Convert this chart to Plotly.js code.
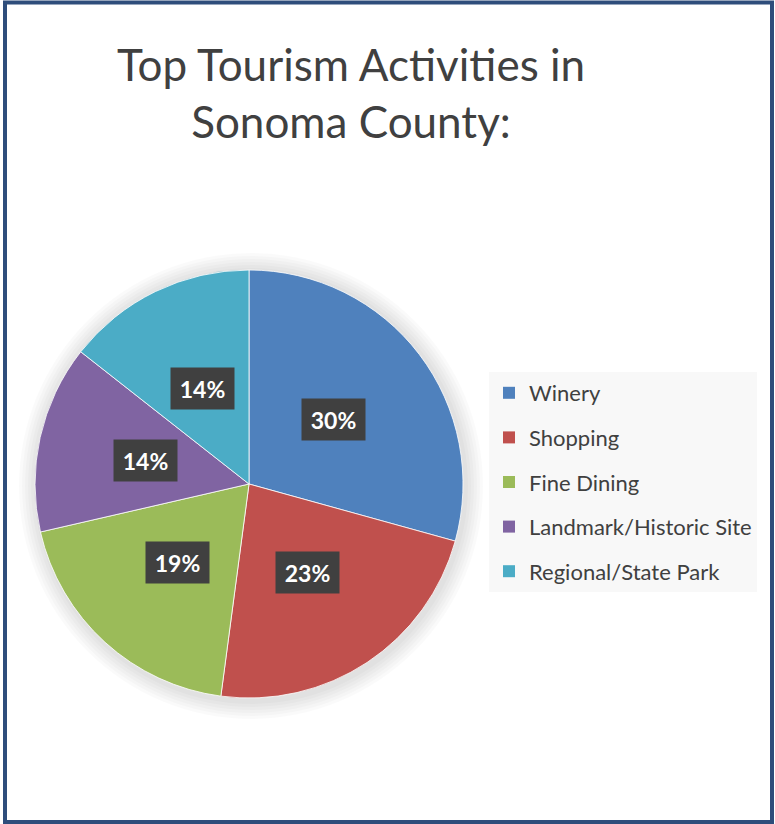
<!DOCTYPE html>
<html>
<head>
<meta charset="utf-8">
<script src="https://cdn.plot.ly/plotly-3.0.1.min.js"></script>
<style>
html,body{margin:0;padding:0;background:#fff;}
#chart{width:775px;height:824px;}
</style>
</head>
<body>
<div id="chart"></div>
<script>
const categories = ["Winery", "Shopping", "Fine Dining", "Landmark/Historic Site", "Regional/State Park"];
const values = [29.3, 22.8, 19.3, 14.2, 14.4];
const pctLabels = ["30%", "23%", "19%", "14%", "14%"];
const colors = ["#4F81BD", "#C0504D", "#9BBB59", "#8064A2", "#4BACC6"];
const titleText = "Top Tourism Activities in<br>Sonoma County:";

const W = 775, H = 824;
const pieLeft = 35, pieRight = 463, pieTop = 270, pieBottom = 698;
const domX = [pieLeft / W, pieRight / W];
const domY = [1 - pieBottom / H, 1 - pieTop / H];
const cx = (pieLeft + pieRight) / 2, cy = (pieTop + pieBottom) / 2;
const R = Math.min(pieRight - pieLeft, pieBottom - pieTop) / 2;

const total = values.reduce((a, b) => a + b, 0);
const annotations = [];
let cum = 0;
values.forEach((v, i) => {
  const mid = (cum + v / 2) / total * 2 * Math.PI;
  cum += v;
  const r = R * 0.495;
  const px = cx + r * Math.sin(mid);
  const py = cy - r * Math.cos(mid);
  annotations.push({
    x: px / W, y: 1 - py / H, xref: "paper", yref: "paper",
    text: "<b>" + pctLabels[i] + "</b>",
    showarrow: false,
    font: {family: "Lato, 'Open Sans', sans-serif", size: 23, color: "#ffffff"},
    bgcolor: "#404040",
    width: 50, height: 28, borderpad: 6.5,
    xanchor: "center", yanchor: "middle"
  });
});

// soft glow behind the pie
const shapes = [];
for (let k = 6; k >= 1; k--) {
  const e = k * 3;
  shapes.push({
    type: "circle", xref: "paper", yref: "paper", layer: "below",
    x0: (cx - R - e + 2) / W, x1: (cx + R + e + 2) / W,
    y0: 1 - (cy + R + e + 3) / H, y1: 1 - (cy - R - e + 1) / H,
    line: {width: 0}, fillcolor: "rgba(0,0,0,0.018)"
  });
}
shapes.push({
  type: "rect", xref: "paper", yref: "paper",
  x0: 5 / W, x1: 772 / W, y0: 1 - 822 / H, y1: 1 - 2.5 / H,
  line: {color: "#2E4D7B", width: 4}, fillcolor: "rgba(0,0,0,0)", layer: "above"
});

const traces = [{
  type: "pie",
  labels: categories,
  values: values,
  sort: false,
  direction: "clockwise",
  rotation: 0,
  domain: {x: domX, y: domY},
  marker: {colors: colors, line: {color: "#ffffff", width: 0.8}},
  textinfo: "none",
  hoverinfo: "label+percent",
  showlegend: false
}];
categories.forEach((c, i) => {
  traces.push({
    type: "scatter", mode: "markers",
    x: [null], y: [null],
    name: c, legendgroup: "g" + i,
    marker: {symbol: "square", size: 14, color: colors[i]},
    hoverinfo: "skip", showlegend: true
  });
});

const layout = {
  width: W, height: H,
  margin: {l: 0, r: 0, t: 0, b: 0},
  paper_bgcolor: "#ffffff",
  plot_bgcolor: "rgba(0,0,0,0)",
  title: {
    text: titleText,
    x: 351 / W, xanchor: "center", xref: "paper",
    y: 1 - 81 / H, yanchor: "top", yref: "paper",
    font: {family: "Lato, 'Open Sans', sans-serif", size: 44, color: "#404040"}
  },
  xaxis: {visible: false},
  yaxis: {visible: false},
  showlegend: true,
  legend: {
    x: 489 / W, y: 1 - 372 / H, xanchor: "left", yanchor: "top",
    bgcolor: "#f8f8f8",
    font: {family: "Lato, 'Open Sans', sans-serif", size: 22, color: "#404040"},
    tracegroupgap: 13,
    itemsizing: "constant",
    entrywidth: 250
  },
  annotations: annotations,
  shapes: shapes
};

Plotly.newPlot("chart", traces, layout, {displayModeBar: false, staticPlot: true});
</script>
</body>
</html>
